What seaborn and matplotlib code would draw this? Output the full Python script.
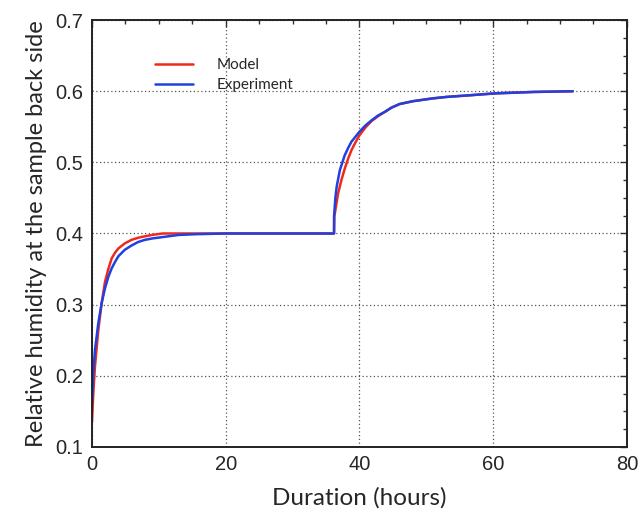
import pandas as pd
import matplotlib
matplotlib.use("Agg")
import matplotlib.pyplot as plt
from matplotlib.ticker import MultipleLocator
import seaborn as sns

# values
model_t = [0, 0.2, 0.45, 0.95, 1.45, 1.95, 2.45, 2.95, 3.45, 3.95, 4.9, 5.9, 6.9, 7.9, 9.0, 10.6, 14, 20, 30,
           36.2, 36.25, 36.8, 37.3, 37.8, 38.3, 38.8, 39.4, 40, 40.9, 41.8, 42.8, 43.8, 44.8, 46, 48, 51, 53,
           56, 60.3, 66, 71.9]
model_rh = [0.134, 0.175, 0.213, 0.264, 0.302, 0.332, 0.350, 0.365, 0.373, 0.379, 0.386, 0.391, 0.394, 0.396,
            0.398, 0.400, 0.400, 0.400, 0.400,
            0.400, 0.424, 0.456, 0.475, 0.491, 0.505, 0.517, 0.528, 0.538, 0.549, 0.558, 0.565, 0.571, 0.577,
            0.582, 0.586, 0.590, 0.592, 0.594, 0.597, 0.599, 0.600]

exp_t = [0, 0.2, 0.45, 0.95, 1.45, 1.95, 2.45, 2.95, 3.45, 3.95, 4.9, 5.9, 6.9, 7.9, 9.0, 10.6, 13, 15.6, 20, 30,
         36.2, 36.2, 36.4, 36.6, 37.07, 37.8, 38.3, 38.8, 39.4, 40, 40.9, 41.8, 42.8, 43.8, 44.8, 46, 48, 51, 53,
         56, 60.3, 66, 71.9]
exp_rh = [0.160, 0.203, 0.236, 0.274, 0.302, 0.323, 0.339, 0.351, 0.360, 0.368, 0.377, 0.383, 0.388, 0.391,
          0.393, 0.395, 0.398, 0.399, 0.400, 0.400,
          0.400, 0.424, 0.450, 0.466, 0.489, 0.510, 0.520, 0.529, 0.536, 0.543, 0.552, 0.559, 0.566, 0.571, 0.577,
          0.582, 0.586, 0.590, 0.592, 0.594, 0.597, 0.599, 0.600]

series_names = ["Model", "Experiment"]
colors = {"Model": "#ee2a1c", "Experiment": "#2040e0"}

df = pd.concat([
    pd.DataFrame({"t": model_t, "rh": model_rh, "series": "Model"}),
    pd.DataFrame({"t": exp_t, "rh": exp_rh, "series": "Experiment"}),
], ignore_index=True)

sns.set_style("white")
plt.rcParams['font.family'] = ['Liberation Sans', 'DejaVu Sans']

fig = plt.figure(figsize=(6.43, 5.16), dpi=100)
ax = fig.add_axes([0.143, 0.134, 0.832, 0.827])

sns.lineplot(data=df, x="t", y="rh", hue="series", hue_order=series_names, palette=colors,
             estimator=None, sort=False, linewidth=1.8, ax=ax)

ax.set_xlim(0, 80)
ax.set_ylim(0.1, 0.7)
ax.xaxis.set_major_locator(MultipleLocator(20))
ax.xaxis.set_minor_locator(MultipleLocator(5))
ax.yaxis.set_minor_locator(MultipleLocator(0.025))
ax.set_yticks([0.1, 0.2, 0.3, 0.4, 0.5, 0.6, 0.7])
ax.set_yticklabels(["0.1", "0.2", "0.3", "0.4", "0.5", "0.6", "0.7"])
ax.tick_params(which="both", direction="in", top=True, right=True, color="#333333")
ax.tick_params(which="major", length=5, width=1, labelsize=14.5, pad=6)
ax.tick_params(which="minor", length=3, width=1)
ax.grid(True, which="major", linestyle=(0, (1, 2)), color="#555555", linewidth=0.9)
for s in ax.spines.values():
    s.set_color("#222222")
    s.set_linewidth(1.4)

ax.set_xlabel("Duration (hours)", fontsize=17.5, family=["Lato", "DejaVu Sans"], labelpad=9)
ax.set_ylabel("Relative humidity at the sample back side", fontsize=17,
              family=["Lato", "DejaVu Sans"], labelpad=6)

ax.legend(frameon=False, loc="upper left", bbox_to_anchor=(0.118, 0.911), borderaxespad=0,
          borderpad=0, handlelength=2.5, handletextpad=1.5, labelspacing=0.4,
          prop={"family": ["Lato", "DejaVu Sans"], "size": 11})

fig.savefig("out.png", dpi=100)
